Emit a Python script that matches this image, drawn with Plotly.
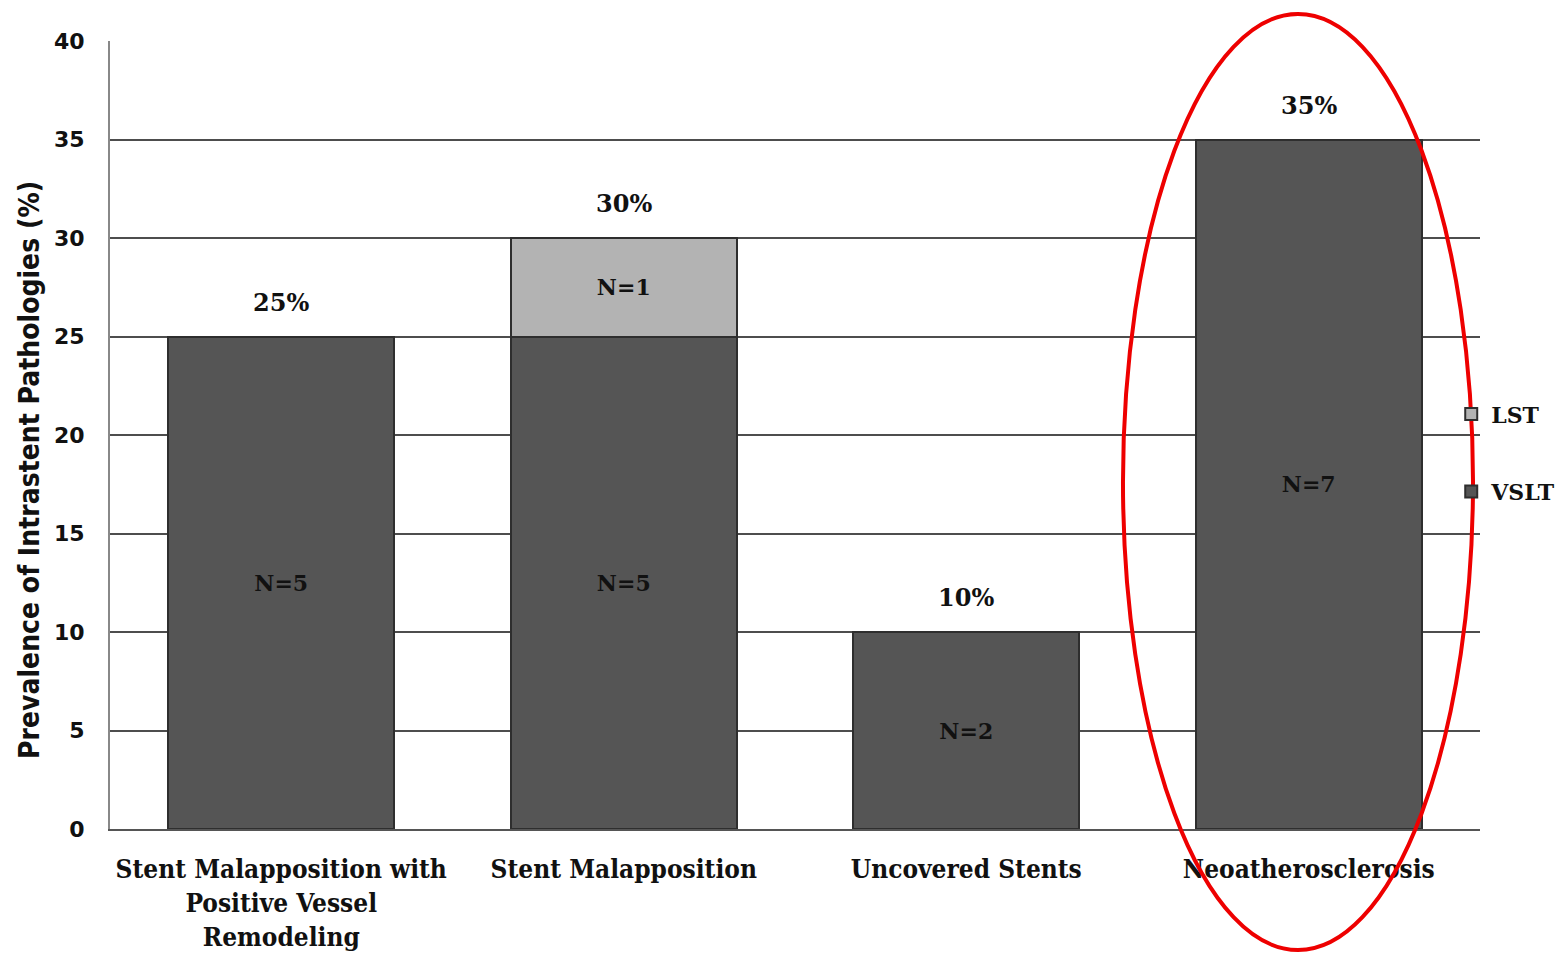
import plotly.graph_objects as go

categories = [
    "Stent Malapposition with<br>Positive Vessel<br>Remodeling",
    "Stent Malapposition",
    "Uncovered Stents",
    "Neoatherosclerosis",
]
vslt_pct = [25, 25, 10, 35]
lst_pct = [0, 5, 0, 0]
vslt_n = [5, 5, 2, 7]
lst_n = [0, 1, 0, 0]
total_labels = ["25%", "30%", "10%", "35%"]
y_ticks = [0, 5, 10, 15, 20, 25, 30, 35, 40]

serif = "DejaVu Serif"
serif_cond = "DejaVu Serif Condensed"
dark = "#555555"
light = "#b3b3b3"

fig = go.Figure()
fig.add_trace(go.Bar(
    x=categories, y=vslt_pct, name="VSLT",
    marker=dict(color=dark, line=dict(color="#2e2e2e", width=2)),
    text=[f"N={n}" for n in vslt_n], textposition="inside",
    insidetextanchor="middle",
    textfont=dict(family=serif, size=22, color="#111111", weight="bold"),
    width=0.66, legendgroup="b", legendrank=2,
))
fig.add_trace(go.Bar(
    x=categories, y=lst_pct, name="LST",
    marker=dict(color=light, line=dict(color="#2e2e2e", width=2)),
    text=[f"N={n}" if n else "" for n in lst_n], textposition="inside",
    insidetextanchor="middle",
    textfont=dict(family=serif, size=22, color="#111111", weight="bold"),
    width=0.66, legendgroup="a", legendrank=1,
))

totals = [a + b for a, b in zip(vslt_pct, lst_pct)]
for cat, tot, lab in zip(categories, totals, total_labels):
    fig.add_annotation(
        x=cat, y=tot, text=lab, showarrow=False,
        yanchor="bottom", yshift=18,
        font=dict(family=serif, size=24, color="#111111", weight="bold"),
    )

# y-axis title placed as a rotated annotation
fig.add_annotation(
    xref="paper", yref="paper", x=-0.0584, y=0.4556,
    text="Prevalence of Intrastent Pathologies (%)", textangle=-90,
    showarrow=False, xanchor="center", yanchor="middle",
    font=dict(family="DejaVu Sans Condensed", size=28, color="#111111", weight="bold"),
)

# highlight ring around the last category
fig.add_shape(
    type="circle", xref="paper", yref="paper",
    x0=0.7394, x1=0.9949, y0=-0.1536, y1=1.0343,
    line=dict(color="#ee0000", width=4),
)

fig.update_layout(
    barmode="stack",
    width=1559, height=957,
    margin=dict(l=110, r=79, t=41, b=128, autoexpand=False),
    paper_bgcolor="white", plot_bgcolor="white",
    showlegend=True,
    legend=dict(
        x=0.979, xanchor="left", y=0.477, yanchor="middle",
        traceorder="grouped", tracegroupgap=46,
        font=dict(family=serif, size=22, color="#111111", weight="bold"),
        itemwidth=30, bgcolor="rgba(0,0,0,0)",
    ),
    xaxis=dict(
        tickfont=dict(family=serif_cond, size=26, color="#111111", weight="bold"),
        showline=True, linecolor="#555555", linewidth=2,
        ticks="", ticklabelstandoff=16,
    ),
    yaxis=dict(
        range=[0, 40], tickvals=y_ticks,
        tickfont=dict(family="DejaVu Sans", size=22, color="#111111", weight="bold"),
        showgrid=True, gridcolor="#4d4d4d", gridwidth=2,
        showline=True, linecolor="#888888", linewidth=2,
        zeroline=False, ticks="", ticklabelstandoff=19,
    ),
)

fig.write_html("out.html")
